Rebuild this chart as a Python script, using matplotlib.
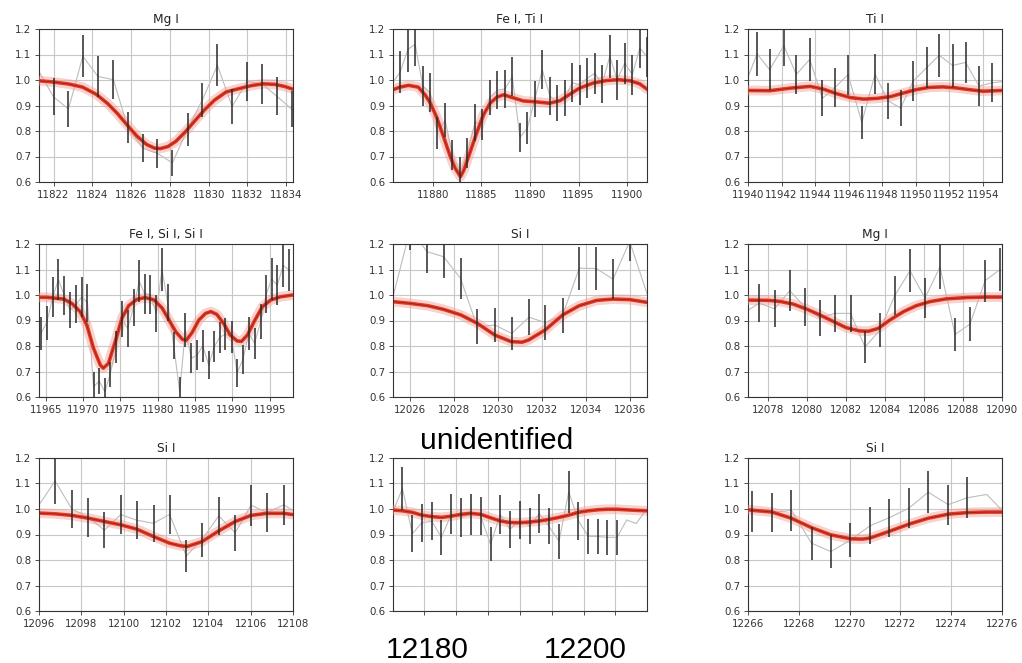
import matplotlib
matplotlib.use('Agg')
import matplotlib.pyplot as plt
import numpy as np

# ---- Mg I (11822-11834)
mg_a_x = [11821.2, 11822.0, 11822.77, 11823.51, 11824.29, 11825.09, 11825.83, 11826.60, 11827.36,
          11828.13, 11828.91, 11829.68, 11830.45, 11831.21, 11831.98, 11832.76, 11833.51, 11834.29]
mg_a_y = [1.04, 0.934, 0.886, 1.093, 1.014, 1.001, 0.814, 0.733, 0.712, 0.675, 0.807, 0.922, 1.058,
          0.896, 0.994, 0.984, 0.937, 0.885]
mg_a_err = [0.08, 0.073, 0.069, 0.083, 0.079, 0.076, 0.062, 0.056, 0.056, 0.051, 0.064, 0.068, 0.083,
            0.068, 0.078, 0.077, 0.074, 0.07]
mg_a_mx = [11821.25, 11822.0, 11822.8, 11823.5, 11824.2, 11824.8, 11825.3, 11825.8, 11826.3, 11826.8,
           11827.2, 11827.5, 11827.9, 11828.3, 11828.8, 11829.3, 11829.8, 11830.3, 11830.9, 11831.5,
           11832.2, 11832.8, 11833.4, 11833.9, 11834.35]
mg_a_my = [0.997, 0.992, 0.984, 0.972, 0.944, 0.907, 0.868, 0.823, 0.780, 0.747, 0.733, 0.731, 0.739,
           0.759, 0.797, 0.841, 0.884, 0.921, 0.953, 0.965, 0.978, 0.985, 0.983, 0.975, 0.964]

# ---- Fe I, Ti I (11876-11902)
fe_ti_x = [11875.86, 11876.64, 11877.43, 11878.18, 11878.97, 11879.73, 11880.48, 11881.27, 11882.02,
           11882.81, 11883.56, 11884.35, 11885.10, 11885.89, 11886.64, 11887.43, 11888.18, 11888.97,
           11889.73, 11890.51, 11891.27, 11892.05, 11892.81, 11893.60, 11894.35, 11895.14, 11895.89,
           11896.68, 11897.43, 11898.22, 11898.97, 11899.76, 11900.55, 11901.30, 11902.09]
fe_ti_y = [0.99, 1.031, 1.12, 1.14, 0.976, 0.951, 0.792, 0.843, 0.705, 0.64, 0.713, 0.834, 0.825, 0.932,
           0.960, 0.965, 1.013, 0.775, 0.811, 0.926, 1.040, 0.937, 0.911, 0.929, 0.989, 0.981, 1.007,
           1.026, 0.984, 1.093, 1.001, 1.066, 1.021, 1.125, 1.09]
fe_ti_err = [0.08, 0.081, 0.09, 0.085, 0.077, 0.075, 0.062, 0.066, 0.058, 0.057, 0.059, 0.072, 0.062,
             0.069, 0.074, 0.075, 0.077, 0.058, 0.062, 0.071, 0.076, 0.074, 0.070, 0.072, 0.077, 0.079,
             0.079, 0.080, 0.075, 0.085, 0.079, 0.081, 0.079, 0.078, 0.08]
fe_ti_mx = [11875.9, 11876.6, 11877.5, 11878.5, 11879.2, 11879.7, 11880.4, 11881.1, 11881.8, 11882.3,
            11882.85, 11883.2, 11883.8, 11884.5, 11885.2, 11885.9, 11886.6, 11887.3, 11888.2, 11889.3,
            11890.7, 11892.0, 11893.1, 11894.1, 11895.1, 11896.5, 11897.9, 11899.1, 11900.3, 11901.3,
            11902.05]
fe_ti_my = [0.962, 0.972, 0.979, 0.972, 0.942, 0.912, 0.854, 0.778, 0.700, 0.654, 0.621, 0.647, 0.713,
            0.791, 0.863, 0.909, 0.933, 0.942, 0.931, 0.918, 0.914, 0.909, 0.919, 0.944, 0.968, 0.988,
            0.998, 1.001, 0.997, 0.985, 0.964]

# ---- Ti I (11940-11955)
ti_x = [11939.76, 11940.54, 11941.29, 11942.13, 11942.88, 11943.68, 11944.43, 11945.19, 11945.96,
        11946.78, 11947.57, 11948.33, 11949.09, 11949.84, 11950.64, 11951.39, 11952.19, 11952.96,
        11953.76, 11954.53, 11955.3]
ti_y = [0.97, 1.103, 1.040, 1.135, 1.022, 1.081, 0.928, 0.971, 1.021, 0.834, 1.023, 0.919, 0.890, 0.996,
        1.048, 1.097, 1.057, 1.069, 0.976, 0.989, 0.995]
ti_err = [0.08, 0.086, 0.081, 0.08, 0.077, 0.084, 0.071, 0.075, 0.078, 0.066, 0.078, 0.071, 0.069, 0.077,
          0.081, 0.085, 0.085, 0.081, 0.077, 0.077, 0.08]
ti_mx = [11940.0, 11941.3, 11942.5, 11943.7, 11944.5, 11945.3, 11946.1, 11946.9, 11947.7, 11948.5,
         11949.2, 11950.0, 11950.8, 11951.6, 11952.4, 11953.2, 11954.0, 11955.13]
ti_my = [0.959, 0.958, 0.968, 0.975, 0.964, 0.946, 0.931, 0.925, 0.928, 0.935, 0.948, 0.962, 0.971,
         0.973, 0.969, 0.962, 0.956, 0.959]

# ---- Fe I, Si I, Si I (11964-11998)
fe_si_x = [11964.37, 11965.13, 11965.94, 11966.70, 11967.50, 11968.26, 11969.07, 11969.83, 11970.59,
           11971.40, 11972.16, 11972.92, 11973.63, 11974.44, 11975.20, 11975.96, 11976.76, 11977.52,
           11978.24, 11979.00, 11979.80, 11980.56, 11981.32, 11982.13, 11982.93, 11983.69, 11984.50,
           11985.26, 11986.02, 11986.82, 11987.58, 11988.30, 11989.06, 11989.87, 11990.63, 11991.39,
           11992.19, 11992.95, 11993.76, 11994.52, 11995.23, 11996.00, 11996.80, 11997.56]
fe_si_y = [0.850, 0.891, 0.992, 1.060, 0.998, 0.941, 0.964, 0.992, 0.970, 0.64, 0.663, 0.62, 0.690,
           0.795, 0.907, 0.869, 0.951, 1.054, 1.004, 1.001, 0.928, 1.100, 0.970, 0.802, 0.62, 0.863,
           0.752, 0.764, 0.801, 0.725, 0.798, 0.834, 0.847, 0.835, 0.695, 0.747, 0.850, 0.810, 0.895,
           1.003, 1.062, 1.039, 1.116, 1.098]
fe_si_err = [0.065, 0.067, 0.077, 0.080, 0.076, 0.072, 0.075, 0.077, 0.075, 0.06, 0.05, 0.055, 0.049,
             0.062, 0.07, 0.072, 0.072, 0.083, 0.077, 0.077, 0.072, 0.083, 0.073, 0.053, 0.06, 0.065,
             0.058, 0.059, 0.062, 0.054, 0.059, 0.062, 0.062, 0.063, 0.054, 0.058, 0.065, 0.06, 0.068,
             0.075, 0.082, 0.078, 0.083, 0.084]
fe_si_mx = [11964.1, 11965.1, 11967.4, 11968.5, 11969.6, 11970.5, 11971.4, 11972.3, 11972.7, 11973.4,
            11974.3, 11975.2, 11976.1, 11977.2, 11978.3, 11979.5, 11980.6, 11981.5, 11982.4, 11983.3,
            11983.8, 11984.6, 11985.5, 11986.4, 11987.1, 11987.9, 11988.8, 11989.7, 11990.6, 11991.2,
            11992.0, 11992.9, 11994.0, 11995.1, 11996.4, 11998.1]
fe_si_my = [0.991, 0.991, 0.984, 0.967, 0.935, 0.882, 0.791, 0.726, 0.713, 0.732, 0.817, 0.909, 0.958,
            0.983, 0.990, 0.981, 0.948, 0.902, 0.856, 0.826, 0.822, 0.853, 0.902, 0.928, 0.935, 0.924,
            0.889, 0.843, 0.820, 0.818, 0.843, 0.896, 0.954, 0.980, 0.993, 1.0]

# ---- Si I (12025-12037)
si_a_x = [12025.2, 12026.0, 12026.76, 12027.52, 12028.29, 12029.05, 12029.86, 12030.62, 12031.41,
          12032.14, 12032.94, 12033.70, 12034.48, 12035.24, 12036.0, 12036.85]
si_a_y = [0.99, 1.26, 1.17, 1.15, 1.065, 0.876, 0.882, 0.849, 0.913, 0.892, 0.920, 1.105, 1.104, 1.062,
          1.21, 0.99]
si_a_err = [0.08, 0.085, 0.085, 0.085, 0.081, 0.068, 0.068, 0.066, 0.070, 0.069, 0.070, 0.085, 0.083,
            0.078, 0.078, 0.08]
si_a_mx = [12025.2, 12026.0, 12026.8, 12027.5, 12028.3, 12029.05, 12029.85, 12030.6, 12031.1, 12031.4,
           12032.15, 12032.95, 12033.7, 12034.5, 12035.25, 12036.0, 12036.8]
si_a_my = [0.974, 0.967, 0.958, 0.944, 0.922, 0.889, 0.843, 0.817, 0.815, 0.824, 0.863, 0.922, 0.958,
           0.979, 0.984, 0.982, 0.971]

# ---- Mg I (12077-12090)
mg_b_x = [12076.77, 12077.54, 12078.34, 12079.11, 12079.88, 12080.65, 12081.42, 12082.23, 12082.97,
          12083.74, 12084.50, 12085.28, 12086.05, 12086.82, 12087.59, 12088.36, 12089.13, 12089.90]
mg_b_y = [0.93, 0.968, 0.946, 1.017, 0.953, 0.910, 0.928, 0.928, 0.796, 0.862, 0.998, 1.095, 0.988,
          1.11, 0.845, 0.886, 1.056, 1.100]
mg_b_err = [0.08, 0.074, 0.073, 0.080, 0.073, 0.070, 0.072, 0.072, 0.063, 0.067, 0.076, 0.085, 0.077,
            0.087, 0.064, 0.068, 0.082, 0.084]
mg_b_mx = [12077.0, 12078.0, 12078.6, 12079.3, 12080.0, 12080.65, 12081.35, 12082.0, 12082.7, 12083.15,
           12083.65, 12084.25, 12084.95, 12085.6, 12086.3, 12087.15, 12088.2, 12089.2, 12090.0]
mg_b_my = [0.980, 0.979, 0.975, 0.964, 0.944, 0.922, 0.896, 0.872, 0.859, 0.858, 0.869, 0.902, 0.935,
           0.958, 0.974, 0.985, 0.990, 0.992, 0.992]

# ---- Si I (12096-12108)
si_b_x = [12096.0, 12096.76, 12097.55, 12098.33, 12099.09, 12099.86, 12100.62, 12101.41, 12102.17,
          12102.96, 12103.70, 12104.49, 12105.27, 12106.02, 12106.77, 12107.56, 12108.3]
si_b_y = [1.016, 1.11, 1.0, 0.968, 0.917, 0.978, 0.956, 0.944, 0.979, 0.816, 0.880, 0.973, 0.907, 1.015,
          0.986, 1.016, 0.98]
si_b_err = [0.078, 0.09, 0.075, 0.076, 0.071, 0.075, 0.074, 0.072, 0.077, 0.063, 0.067, 0.074, 0.070,
            0.080, 0.076, 0.078, 0.08]
si_b_mx = [12096.0, 12096.76, 12097.55, 12098.33, 12099.09, 12099.86, 12100.62, 12101.41, 12102.17,
           12102.67, 12103.0, 12103.7, 12104.49, 12105.27, 12106.02, 12106.77, 12107.56, 12108.0]
si_b_my = [0.984, 0.981, 0.975, 0.964, 0.951, 0.938, 0.921, 0.892, 0.866, 0.856, 0.853, 0.872, 0.914,
           0.951, 0.975, 0.983, 0.983, 0.978]

# ---- unidentified (12176-12208)
unid_x = [12176.1, 12177.28, 12178.53, 12179.71, 12180.96, 12182.18, 12183.43, 12184.61, 12185.82,
          12187.08, 12188.33, 12189.55, 12190.76, 12192.02, 12193.24, 12194.45, 12195.66, 12196.92,
          12198.14, 12199.35, 12200.61, 12201.78, 12202.99, 12204.21, 12205.4, 12206.6, 12207.8]
unid_y = [0.99, 1.08, 0.903, 0.946, 0.952, 0.889, 0.981, 0.967, 0.979, 0.973, 0.862, 0.978, 0.920, 0.958,
          0.933, 0.982, 0.932, 0.874, 1.068, 0.953, 0.893, 0.892, 0.889, 0.889, 0.957, 0.943, 0.996]
unid_err = [0, 0.083, 0.073, 0.075, 0.074, 0.068, 0.078, 0.075, 0.079, 0.076, 0.066, 0.077, 0.072, 0.074,
            0.072, 0.078, 0.071, 0.069, 0.082, 0.073, 0.068, 0.067, 0.068, 0.068, 0, 0, 0]
unid_mx = [12176.1, 12177.3, 12178.5, 12179.7, 12181.0, 12182.2, 12183.4, 12184.6, 12185.8, 12187.1,
           12188.3, 12189.55, 12190.75, 12192.0, 12193.25, 12194.45, 12195.65, 12196.9, 12198.15,
           12199.35, 12200.6, 12201.8, 12203.0, 12204.2, 12205.8, 12207.9]
unid_my = [0.996, 0.993, 0.987, 0.976, 0.970, 0.967, 0.972, 0.979, 0.983, 0.979, 0.966, 0.953, 0.947,
           0.946, 0.949, 0.953, 0.959, 0.967, 0.976, 0.987, 0.993, 0.997, 0.999, 0.999, 0.996, 0.993]

# ---- Si I (12266-12276)
si_c_x = [12266.17, 12266.95, 12267.71, 12268.50, 12269.26, 12270.03, 12270.80, 12271.56, 12272.33,
          12273.10, 12273.88, 12274.63, 12275.40, 12276.1]
si_c_y = [0.989, 0.986, 0.995, 0.866, 0.833, 0.878, 0.934, 0.966, 1.003, 1.066, 1.017, 1.044, 1.057,
          0.985]
si_c_err = [0.080, 0.077, 0.080, 0.065, 0.066, 0.067, 0.072, 0.074, 0.078, 0.082, 0.078, 0.080, 0, 0]
si_c_mx = [12266.0, 12266.95, 12267.7, 12268.5, 12269.25, 12270.05, 12270.5, 12270.8, 12271.55,
           12272.35, 12273.1, 12273.9, 12274.65, 12275.4, 12276.0]
si_c_my = [0.997, 0.988, 0.964, 0.927, 0.899, 0.883, 0.882, 0.886, 0.912, 0.941, 0.964, 0.980, 0.986,
           0.988, 0.988]

titles = ['Mg I', 'Fe I, Ti I', 'Ti I', 'Fe I, Si I, Si I', 'Si I', 'Mg I', 'Si I', '', 'Si I']

# (data, model, xlim, xticks)
panels = [
    ((mg_a_x, mg_a_y, mg_a_err), (mg_a_mx, mg_a_my), (11821.25, 11834.35), np.arange(11822, 11835, 2)),
    ((fe_ti_x, fe_ti_y, fe_ti_err), (fe_ti_mx, fe_ti_my), (11875.9, 11902.05), np.arange(11880, 11901, 5)),
    ((ti_x, ti_y, ti_err), (ti_mx, ti_my), (11940, 11955.13), np.arange(11940, 11955, 2)),
    ((fe_si_x, fe_si_y, fe_si_err), (fe_si_mx, fe_si_my), (11964.1, 11998.1), np.arange(11965, 11996, 5)),
    ((si_a_x, si_a_y, si_a_err), (si_a_mx, si_a_my), (12025.21, 12036.79), np.arange(12026, 12037, 2)),
    ((mg_b_x, mg_b_y, mg_b_err), (mg_b_mx, mg_b_my), (12076.97, 12090), np.arange(12078, 12091, 2)),
    ((si_b_x, si_b_y, si_b_err), (si_b_mx, si_b_my), (12096, 12108), np.arange(12096, 12109, 2)),
    ((unid_x, unid_y, unid_err), (unid_mx, unid_my), (12176.1, 12207.95), np.arange(12180, 12205, 4)),
    ((si_c_x, si_c_y, si_c_err), (si_c_mx, si_c_my), (12266, 12276), np.arange(12266, 12277, 2)),
]

W, H = 1022, 663
fig = plt.figure(figsize=(W / 100, H / 100), dpi=100)

col_left = [39, 393, 748]
row_top = [29, 244, 458]
ax_w, ax_h = 254, 153

for i, ((x, y, e), (mx, my), xl, xt) in enumerate(panels):
    r, c = divmod(i, 3)
    ax = fig.add_axes([col_left[c] / W, 1 - (row_top[r] + ax_h) / H, ax_w / W, ax_h / H])
    ax.grid(True, color='#c8c8c8', lw=0.8)
    ax.set_axisbelow(True)
    # observed spectrum
    ax.plot(x, y, color='#bdbdbd', lw=0.8, zorder=2)
    # model: halo of samples + best fit
    ax.plot(mx, my, color='#f29a92', lw=7, alpha=0.45, solid_capstyle='round', zorder=3)
    ax.plot(mx, my, color='#e23a26', lw=2.6, zorder=4)
    ax.plot(mx, my, color='#8e1a0e', lw=0.6, alpha=0.8, zorder=5)
    ax.errorbar(x, y, yerr=e, fmt='none', ecolor='#2a2a2a', elinewidth=1.1, capsize=0, zorder=6)
    ax.set_xlim(*xl)
    ax.set_ylim(0.6, 1.2)
    ax.set_xticks(xt)
    ax.set_yticks(np.arange(0.6, 1.21, 0.1))
    ax.ticklabel_format(axis='x', useOffset=False, style='plain')
    ax.tick_params(labelsize=7.4, colors='#333333', length=3, width=0.6, pad=2.5)
    for s in ax.spines.values():
        s.set_color('#333333')
        s.set_linewidth(0.8)
    if titles[i]:
        ax.set_title(titles[i], fontsize=8.8, color='#222222', pad=4)
    if i == 7:
        ax.set_xticklabels([])

# big overlay labels for the unidentified panel
big = dict(family=['Liberation Sans', 'DejaVu Sans'], fontsize=21.5, color='black', ha='center', va='center')
fig.text(497 / W, 1 - 441 / H, 'unidentified', **big)
fig.text(427 / W, 1 - 650 / H, '12180', **big)
fig.text(585 / W, 1 - 650 / H, '12200', **big)

fig.savefig('out.png', dpi=100, facecolor='white')
